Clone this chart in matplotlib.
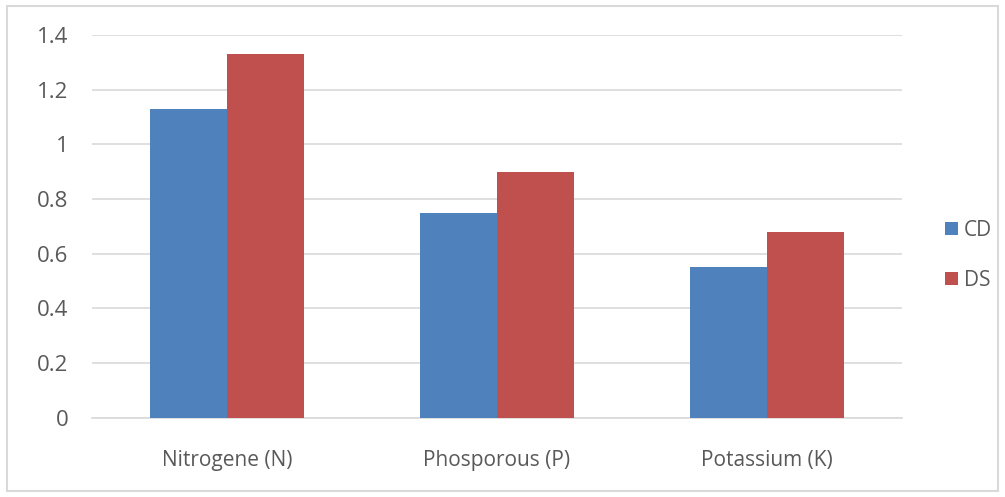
import matplotlib
matplotlib.use("Agg")
import matplotlib.pyplot as plt
import numpy as np
from matplotlib.patches import Rectangle

plt.rcParams['font.family'] = ['Open Sans', 'DejaVu Sans']

nutrients = ['Nitrogene (N)', 'Phosporous (P)', 'Potassium (K)']
cd = [1.13, 0.75, 0.55]
ds = [1.33, 0.90, 0.68]

fig = plt.figure(figsize=(10.05, 4.97), dpi=100)
# outer chart border
fig.patches.append(Rectangle((0.007, 0.012), 0.986, 0.976, transform=fig.transFigure,
                             fill=False, edgecolor='#D9D9D9', linewidth=1.5))
ax = fig.add_axes([0.0915, 0.159, 0.806, 0.771])

x = np.arange(len(nutrients))
w = 0.286
ax.bar(x - w/2, cd, w, color='#4F81BD', label='CD', zorder=3)
ax.bar(x + w/2, ds, w, color='#C0504D', label='DS', zorder=3)

ax.set_xlim(-0.5, 2.5)
ax.set_ylim(0, 1.4)
ax.set_yticks(np.arange(0, 1.41, 0.2))
ax.set_yticklabels(['0', '0.2', '0.4', '0.6', '0.8', '1', '1.2', '1.4'])
ax.set_xticks(x)
ax.set_xticklabels(nutrients)
ax.grid(axis='y', color='#D9D9D9', linewidth=1.2, zorder=0)
for s in ['top', 'right', 'left']:
    ax.spines[s].set_visible(False)
ax.spines['bottom'].set_color('#D9D9D9')
ax.spines['bottom'].set_linewidth(1.2)
ax.tick_params(axis='both', length=0, colors='#595959')
ax.tick_params(axis='x', pad=23, labelsize=15)
ax.tick_params(axis='y', pad=17, labelsize=16)

ax.legend(loc='center left', bbox_to_anchor=(1.03, 0.425), frameon=False,
          fontsize=15, labelcolor='#595959', handlelength=0.6, handleheight=0.6,
          handletextpad=0.3, labelspacing=1.4)

fig.savefig('out.png', dpi=100)
